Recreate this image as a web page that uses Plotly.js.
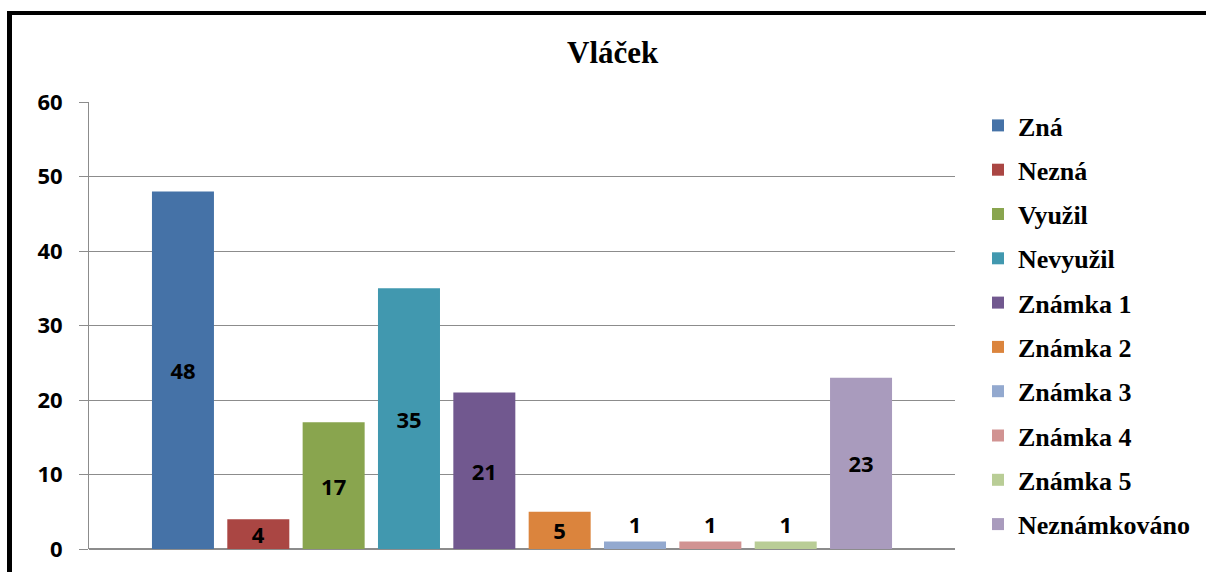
<!DOCTYPE html>
<html>
<head>
<meta charset="utf-8">
<script src="https://cdn.plot.ly/plotly-3.0.1.min.js"></script>
<style>
  html, body { margin: 0; padding: 0; background: #fff; }
  #wrap { position: relative; width: 1206px; height: 572px; overflow: hidden; }
  #chart { width: 1206px; height: 572px; }
  #frame { position: absolute; left: 7px; top: 11px; width: 1300px; height: 700px;
           border-left: 5px solid #000; border-top: 4px solid #000; pointer-events: none; }
</style>
</head>
<body>
<div id="wrap">
  <div id="chart"></div>
  <div id="frame"></div>
</div>
<script>
const chartTitle = "Vláček";
const category = "Vláček";
const seriesNames = ["Zná", "Nezná", "Využil", "Nevyužil", "Známka 1", "Známka 2", "Známka 3", "Známka 4", "Známka 5", "Neznámkováno"];
const seriesValues = [48, 4, 17, 35, 21, 5, 1, 1, 1, 23];
const seriesColors = ["#4572A7", "#AA4643", "#89A54E", "#4198AF", "#71588F", "#DB843D", "#93A9CF", "#D19392", "#B9CD96", "#A99BBD"];
const yTicks = [0, 10, 20, 30, 40, 50, 60];

const sansBold = {family: "'Open Sans', 'DejaVu Sans', sans-serif", size: 22, color: "#000", weight: 700};
const serifBold = {family: "'Liberation Serif', 'DejaVu Serif', serif", size: 26, color: "#000", weight: 700};

const traces = seriesNames.map((name, i) => ({
  type: "bar",
  name: name,
  x: [category],
  y: [seriesValues[i]],
  text: [String(seriesValues[i])],
  textposition: "auto",
  insidetextanchor: "middle",
  textangle: 0,
  constraintext: "none",
  textfont: sansBold,
  insidetextfont: sansBold,
  outsidetextfont: sansBold,
  cliponaxis: false,
  legendgroup: "g" + i,
  marker: {color: seriesColors[i], line: {width: 0}},
  hoverinfo: "name+y"
}));

const layout = {
  width: 1206,
  height: 572,
  margin: {l: 89, r: 251, t: 102, b: 23},
  paper_bgcolor: "#fff",
  plot_bgcolor: "#fff",
  title: {
    text: chartTitle,
    font: {family: "'Liberation Serif', 'DejaVu Serif', serif", size: 31, color: "#000", weight: 700},
    x: 0.508, xanchor: "center",
    y: 1 - 52/572, yanchor: "middle",
    xref: "container", yref: "container"
  },
  barmode: "group",
  bargap: 0.13,
  bargroupgap: 0.177,
  showlegend: true,
  legend: {
    xref: "container", yref: "container",
    x: 978/1206, xanchor: "left",
    y: 1 - 102/572, yanchor: "top",
    font: serifBold,
    tracegroupgap: 7.5,
    maxheight: 560,
    bgcolor: "rgba(0,0,0,0)",
    borderwidth: 0
  },
  xaxis: {
    type: "category",
    showticklabels: false,
    showgrid: false,
    zeroline: false,
    showline: false,
    ticks: ""
  },
  yaxis: {
    range: [0, 60],
    tickvals: yTicks,
    ticktext: yTicks.map(String),
    tickfont: sansBold,
    showgrid: true,
    gridcolor: "#8c8c8c",
    gridwidth: 1,
    zeroline: true,
    zerolinecolor: "#8c8c8c",
    zerolinewidth: 1.5,
    showline: true,
    linecolor: "#8c8c8c",
    linewidth: 1,
    ticks: "outside",
    ticklen: 9,
    tickcolor: "#8c8c8c",
    ticklabelstandoff: 12,
    fixedrange: true
  }
};

Plotly.newPlot("chart", traces, layout, {displayModeBar: false, staticPlot: true});
</script>
</body>
</html>
